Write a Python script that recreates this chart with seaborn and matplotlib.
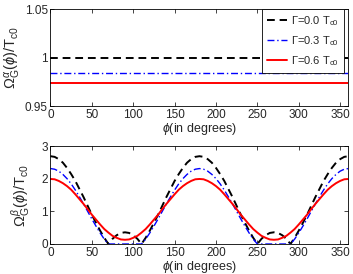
import numpy as np
import pandas as pd
import matplotlib
matplotlib.use("Agg")
import matplotlib.pyplot as plt
import seaborn as sns

# top panel: Omega^alpha_G(phi)/Tc0, flat in phi
phi_alpha = [0, 360]
alpha_g00 = [1.0, 1.0]
alpha_g03 = [0.984, 0.984]
alpha_g06 = [0.974, 0.974]

# bottom panel: Omega^beta_G(phi)/Tc0, read every 5 degrees
phi_beta = list(range(0, 365, 5))
beta_g00 = [2.70, 2.68, 2.61, 2.50, 2.34, 2.15, 1.94, 1.69, 1.44, 1.17,
            0.90, 0.65, 0.41, 0.19, 0.00, 0.16, 0.27, 0.34, 0.36, 0.34,
            0.27, 0.16, 0.00, 0.19, 0.41, 0.65, 0.90, 1.17, 1.44, 1.69,
            1.94, 2.15, 2.34, 2.50, 2.61, 2.68, 2.70, 2.68, 2.61, 2.50,
            2.34, 2.15, 1.94, 1.69, 1.44, 1.17, 0.90, 0.65, 0.41, 0.19,
            0.00, 0.16, 0.27, 0.34, 0.36, 0.34, 0.27, 0.16, 0.00, 0.19,
            0.41, 0.65, 0.90, 1.17, 1.44, 1.69, 1.94, 2.15, 2.34, 2.50,
            2.61, 2.68, 2.70]
beta_g03 = [2.32, 2.30, 2.24, 2.14, 2.01, 1.85, 1.66, 1.45, 1.23, 1.00,
            0.77, 0.55, 0.34, 0.15, 0.00, 0.00, 0.00, 0.00, 0.00, 0.00,
            0.00, 0.00, 0.00, 0.15, 0.34, 0.55, 0.77, 1.00, 1.23, 1.45,
            1.66, 1.85, 2.01, 2.14, 2.24, 2.30, 2.32, 2.30, 2.24, 2.14,
            2.01, 1.85, 1.66, 1.45, 1.23, 1.00, 0.77, 0.55, 0.34, 0.15,
            0.00, 0.00, 0.00, 0.00, 0.00, 0.00, 0.00, 0.00, 0.00, 0.15,
            0.34, 0.55, 0.77, 1.00, 1.23, 1.45, 1.66, 1.85, 2.01, 2.14,
            2.24, 2.30, 2.32]
beta_g06 = [2.00, 1.99, 1.94, 1.87, 1.78, 1.67, 1.53, 1.38, 1.23, 1.07,
            0.90, 0.75, 0.60, 0.46, 0.35, 0.25, 0.19, 0.14, 0.13, 0.14,
            0.19, 0.25, 0.35, 0.46, 0.60, 0.75, 0.90, 1.07, 1.23, 1.38,
            1.53, 1.67, 1.78, 1.87, 1.94, 1.99, 2.00, 1.99, 1.94, 1.87,
            1.78, 1.67, 1.53, 1.38, 1.23, 1.07, 0.90, 0.75, 0.60, 0.46,
            0.35, 0.25, 0.19, 0.14, 0.13, 0.14, 0.19, 0.25, 0.35, 0.46,
            0.60, 0.75, 0.90, 1.07, 1.23, 1.38, 1.53, 1.67, 1.78, 1.87,
            1.94, 1.99, 2.00]

labels = [r"$\Gamma$=0.0 T$_{\rm c0}$", r"$\Gamma$=0.3 T$_{\rm c0}$", r"$\Gamma$=0.6 T$_{\rm c0}$"]
colors = ["black", "blue", "red"]
dashes = [(4, 2.5), (5, 2, 1, 2), ""]
widths = [1.4, 1.0, 1.4]

sns.set_style("ticks")
plt.rcParams["font.family"] = ["Liberation Sans", "DejaVu Sans"]
plt.rcParams["mathtext.fontset"] = "custom"
plt.rcParams["mathtext.rm"] = "Liberation Sans"
plt.rcParams["mathtext.it"] = "Liberation Sans:italic"
plt.rcParams["font.size"] = 8.5

fig = plt.figure(figsize=(3.53, 2.74), dpi=100)
ax1 = fig.add_axes([0.143, 0.613, 0.844, 0.354])
ax2 = fig.add_axes([0.143, 0.1095, 0.844, 0.356])

for ys, lab, c, d, w in zip([alpha_g00, alpha_g03, alpha_g06], labels, colors, dashes, widths):
    sns.lineplot(x=phi_alpha, y=ys, ax=ax1, color=c, lw=w, label=lab)
    if d:
        ax1.lines[-1].set_dashes(d)

for ys, c, d, w in zip([beta_g00, beta_g03, beta_g06], colors, dashes, widths):
    sns.lineplot(x=phi_beta, y=ys, ax=ax2, color=c, lw=w)
    if d:
        ax2.lines[-1].set_dashes(d)

ax1.set_ylim(0.95, 1.05)
ax1.set_yticks([0.95, 1.0, 1.05])
ax1.set_yticklabels(["0.95", "1", "1.05"])
ax1.set_ylabel(r"$\Omega^{\alpha}_{\rm G}(\phi)/{\rm T}_{\rm c0}$", fontsize=10.5, labelpad=1)

ax2.set_ylim(0, 3)
ax2.set_yticks([0, 1, 2, 3])
ax2.set_ylabel(r"$\Omega^{\beta}_{\rm G}(\phi)/{\rm T}_{\rm c0}$", fontsize=10.5, labelpad=6)

for ax in (ax1, ax2):
    ax.set_xlim(0, 360)
    ax.set_xticks(range(0, 360, 50))
    ax.set_xlabel(r"$\phi$(in degrees)", fontsize=9, labelpad=0)
    ax.tick_params(direction="in", length=3, width=0.6, top=True, right=True, labelsize=8.5, pad=2)
    for s in ax.spines.values():
        s.set_visible(True)
        s.set_linewidth(0.6)
        s.set_color("black")

leg = ax1.legend(loc="upper right", bbox_to_anchor=(0.985, 1.0), borderaxespad=0,
                 handlelength=1.8, handletextpad=0.4, labelspacing=0.55,
                 borderpad=0.45, fancybox=False, framealpha=1, edgecolor="black", fontsize=8)
leg.get_frame().set_linewidth(0.6)
for h, d in zip(leg.get_lines(), dashes):
    if d:
        h.set_dashes(d)

fig.savefig("out.png", dpi=100)
